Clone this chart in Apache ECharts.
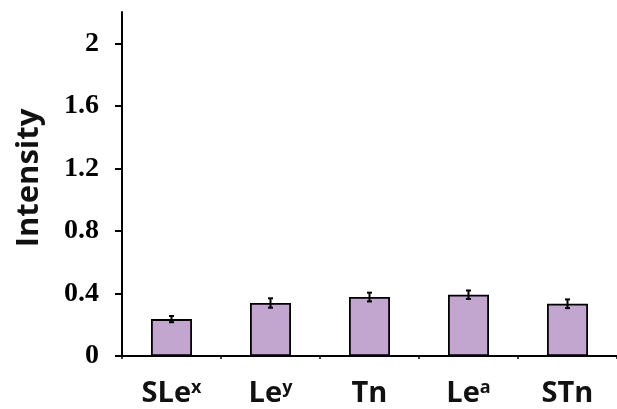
<!DOCTYPE html>
<html>
<head>
<meta charset="utf-8">
<script src="https://cdn.jsdelivr.net/npm/echarts@6/dist/echarts.min.js"></script>
<style>
html,body{margin:0;padding:0;background:#fff;}
#c{width:617px;height:409px;}
</style>
</head>
<body>
<div id="c"></div>
<script>
var categories = ['SLe{sup|x}', 'Le{sup|y}', 'Tn', 'Le{sup|a}', 'STn'];
var values = [0.236, 0.339, 0.377, 0.392, 0.334];
var errors = [0.02, 0.03, 0.028, 0.027, 0.028];
var yTicks = [0, 0.4, 0.8, 1.2, 1.6, 2];

var chart = echarts.init(document.getElementById('c'));
var errData = values.map(function (v, i) { return [i, v - errors[i], v + errors[i]]; });

chart.setOption({
  animation: false,
  grid: { left: 122, right: -6, top: 12, bottom: 53 },
  xAxis: {
    type: 'category',
    data: categories,
    axisLine: { lineStyle: { color: '#000', width: 2 } },
    axisTick: { show: true, length: 3, lineStyle: { color: '#000', width: 1.5 } },
    axisLabel: {
      interval: 0,
      margin: 23,
      color: '#111',
      fontFamily: 'Open Sans',
      fontWeight: 'bold',
      fontSize: 29,
      rich: {
        sup: { fontFamily: 'Open Sans', fontWeight: 'bold', fontSize: 18, color: '#111', padding: [0, 0, 12, 0] }
      }
    }
  },
  yAxis: {
    type: 'value',
    min: 0,
    max: 2.2,
    interval: 0.4,
    name: 'Intensity',
    nameLocation: 'middle',
    nameGap: 77,
    nameTextStyle: { fontFamily: 'Open Sans', fontWeight: 'bold', fontSize: 31, color: '#111', padding: [0, 0, 0, 12] },
    splitLine: { show: false },
    axisLine: { show: true, lineStyle: { color: '#000', width: 2 } },
    axisTick: { show: true, length: 7, customValues: yTicks, lineStyle: { color: '#000', width: 2 } },
    axisLabel: {
      customValues: yTicks,
      margin: 23,
      color: '#000',
      fontFamily: 'Liberation Serif',
      fontWeight: 'bold',
      fontSize: 28,
      formatter: function (v) { return String(v); }
    }
  },
  series: [
    {
      type: 'bar',
      data: values,
      barWidth: 41,
      itemStyle: { color: '#c3a6d0', borderColor: '#000', borderWidth: 1.8 }
    },
    {
      type: 'custom',
      data: errData,
      z: 10,
      renderItem: function (params, api) {
        var x = api.value(0);
        var lo = api.coord([x, api.value(1)]);
        var hi = api.coord([x, api.value(2)]);
        var w = 2.5;
        var st = { stroke: '#000', lineWidth: 2 };
        return {
          type: 'group',
          children: [
            { type: 'line', shape: { x1: lo[0], y1: lo[1], x2: hi[0], y2: hi[1] }, style: st },
            { type: 'line', shape: { x1: lo[0] - w, y1: lo[1], x2: lo[0] + w, y2: lo[1] }, style: st },
            { type: 'line', shape: { x1: hi[0] - w, y1: hi[1], x2: hi[0] + w, y2: hi[1] }, style: st }
          ]
        };
      }
    }
  ]
});
</script>
</body>
</html>
